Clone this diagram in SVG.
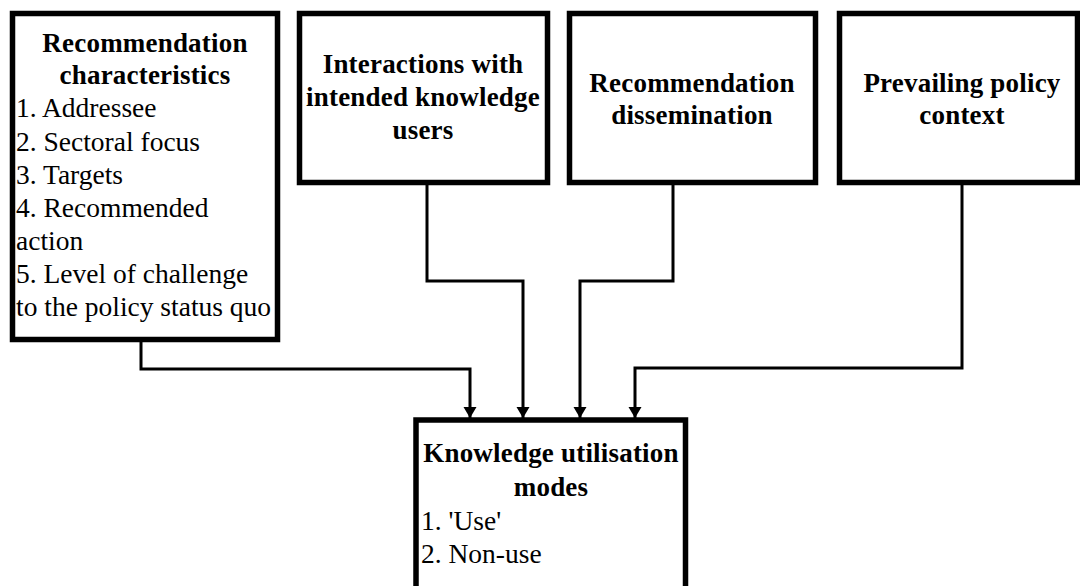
<svg xmlns="http://www.w3.org/2000/svg" width="1080" height="586" viewBox="0 0 1080 586">
<style>
.box{fill:#fff;stroke:#000;stroke-width:5.5}
.t{font-family:"Liberation Serif","Times New Roman",serif;font-size:27.5px;fill:#000}
.b{font-weight:bold;text-anchor:middle;font-size:27px;letter-spacing:0.2px}
.c{fill:none;stroke:#000;stroke-width:3}
</style>
<defs>
<marker id="ah" markerUnits="userSpaceOnUse" markerWidth="14" markerHeight="14" refX="11" refY="6.5" orient="auto" overflow="visible">
<path d="M0,0 L11,6.5 L0,13 Z" fill="#000"/>
</marker>
</defs>
<rect width="1080" height="586" fill="#fff"/>
<g id="connectors">
<path class="c" d="M141,341 V369 H470 V418" marker-end="url(#ah)"/>
<path class="c" d="M427,184 V281 H523 V418" marker-end="url(#ah)"/>
<path class="c" d="M673,184 V281 H580 V418" marker-end="url(#ah)"/>
<path class="c" d="M962,184 V368 H635 V418" marker-end="url(#ah)"/>
</g>
<g id="n1">
<rect class="box" x="12.5" y="13.5" width="265" height="326"/>
<text class="t b" x="145" y="52">Recommendation</text>
<text class="t b" x="145" y="84">characteristics</text>
<text class="t" x="16" y="117">1. Addressee</text>
<text class="t" x="16" y="151">2. Sectoral focus</text>
<text class="t" x="16" y="184">3. Targets</text>
<text class="t" x="16" y="217">4. Recommended</text>
<text class="t" x="16" y="250">action</text>
<text class="t" x="16" y="283">5. Level of challenge</text>
<text class="t" x="16" y="316">to the policy status quo</text>
</g>
<g id="n2">
<rect class="box" x="299.5" y="13.5" width="248" height="169"/>
<text class="t b" x="423" y="73">Interactions with</text>
<text class="t b" x="423" y="106">intended knowledge</text>
<text class="t b" x="423" y="139">users</text>
</g>
<g id="n3">
<rect class="box" x="569.5" y="13.5" width="246" height="169"/>
<text class="t b" x="692" y="92">Recommendation</text>
<text class="t b" x="692" y="124">dissemination</text>
</g>
<g id="n4">
<rect class="box" x="839.5" y="13.5" width="238" height="169"/>
<text class="t b" x="962" y="92">Prevailing policy</text>
<text class="t b" x="962" y="124">context</text>
</g>
<g id="n5">
<rect class="box" x="416" y="420" width="269.5" height="200"/>
<text class="t b" x="551" y="462">Knowledge utilisation</text>
<text class="t b" x="551" y="496">modes</text>
<text class="t" x="421" y="530">1. 'Use'</text>
<text class="t" x="421" y="563">2. Non-use</text>
</g>
</svg>
